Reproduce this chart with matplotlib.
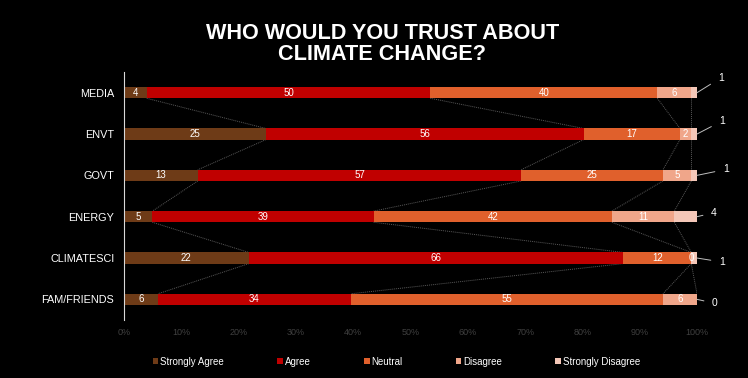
import numpy as np
import matplotlib.pyplot as plt

categories = ['MEDIA', 'ENVT', 'GOVT', 'ENERGY', 'CLIMATESCI', 'FAM/FRIENDS']
series_names = ['Strongly Agree', 'Agree', 'Neutral', 'Disagree', 'Strongly Disagree']
strongly_agree = [4, 25, 13, 5, 22, 6]
agree = [50, 56, 57, 39, 66, 34]
neutral = [40, 17, 25, 42, 12, 55]
disagree = [6, 2, 5, 11, 0, 6]
strongly_disagree = [1, 1, 1, 4, 1, 0]
colors = ['#6E3B17', '#C00000', '#E0602C', '#F0A68A', '#F4C7B8']

# offsets (pixels) for the outside labels of the last series
sd_offsets = [(24, 15), (25, 13), (29, 6), (17, 4), (25, -4), (18, -4)]

plt.rcParams['font.family'] = ['Liberation Sans', 'DejaVu Sans']

fig = plt.figure(figsize=(7.48, 3.78), dpi=100, facecolor='black')
ax = fig.add_axes([0.1658, 0.1534, 0.766, 0.656])
ax.set_facecolor('black')

data = np.array([strongly_agree, agree, neutral, disagree, strongly_disagree], dtype=float)
totals = data.sum(axis=0)
pct = data / totals * 100
cum = np.cumsum(pct, axis=0)
y = np.arange(len(categories))
h = 0.27

# series lines between adjacent bars
for k in range(len(series_names)):
    for i in range(len(categories) - 1):
        ax.plot([cum[k, i], cum[k, i + 1]], [y[i] + h / 2, y[i + 1] - h / 2],
                color='#595959', lw=0.7, ls=(0, (1, 1)), zorder=1)

left = np.zeros(len(categories))
for k, name in enumerate(series_names):
    ax.barh(y, pct[k], left=left, height=h, color=colors[k], label=name, zorder=2)
    for i in range(len(categories)):
        if k < 4:
            ax.text(left[i] + pct[k, i] / 2, y[i], str(int(data[k, i])), color='white',
                    ha='center', va='center', fontsize=7, zorder=3)
        else:
            ax.annotate(str(int(data[k, i])), xy=(100, y[i]), xytext=sd_offsets[i],
                        textcoords='offset pixels', color='white', fontsize=7.5,
                        ha='center', va='center', annotation_clip=False,
                        arrowprops=dict(arrowstyle='-', color='#bfbfbf', lw=0.7,
                                        shrinkA=4, shrinkB=0))
    left = left + pct[k]

ax.set_xlim(0, 100)
ax.set_ylim(len(categories) - 0.5, -0.5)
ax.set_yticks(y)
ax.set_yticklabels(categories, color='white', fontsize=7.8)
ax.set_xticks(np.arange(0, 101, 10))
ax.set_xticklabels([f'{v}%' for v in range(0, 101, 10)], color='#404040', fontsize=6.5)
ax.tick_params(axis='x', length=0, pad=6)
ax.tick_params(axis='y', length=0, pad=7)
for s in ['top', 'right', 'bottom']:
    ax.spines[s].set_visible(False)
ax.spines['left'].set_color('#d9d9d9')
ax.spines['left'].set_linewidth(0.8)

fig.text(0.511, 0.884, 'WHO WOULD YOU TRUST ABOUT\nCLIMATE CHANGE?', color='white',
         fontsize=15.6, fontweight='bold', ha='center', va='center', linespacing=1.0)

leg = fig.legend(loc='center', bbox_to_anchor=(0.53, 0.043), ncol=5, frameon=False,
                 fontsize=7, handlelength=0.6, handleheight=0.6, handletextpad=0.2,
                 columnspacing=5.45)
for t in leg.get_texts():
    t.set_color('white')

fig.savefig('out.png', dpi=100, facecolor='black')
